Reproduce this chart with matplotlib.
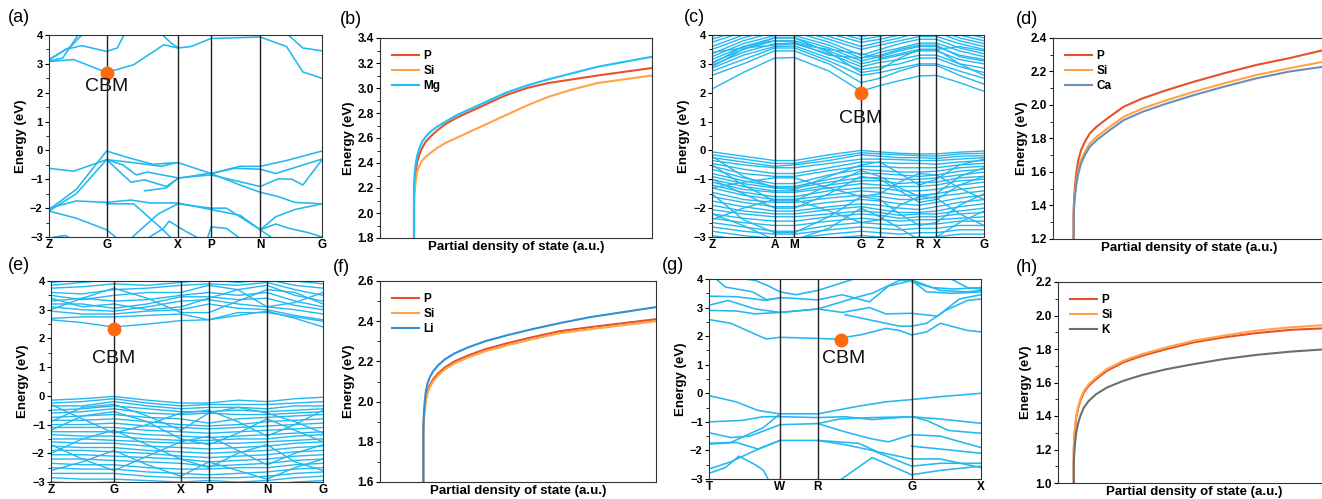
import numpy as np
import matplotlib
matplotlib.use("Agg")
import matplotlib.pyplot as plt
from matplotlib.ticker import MultipleLocator, FormatStrFormatter

plt.rcParams['font.family'] = ['Liberation Sans', 'DejaVu Sans']

BAND = '#22b8f0'
DOT = '#ff6a10'

# ---------------- band data ----------------
# (a) k path Z-G-X-P-N-G
hs_a = [0, 0.211, 0.472, 0.594, 0.774, 1.0]
lab_a = ['Z', 'G', 'X', 'P', 'N', 'G']
bands_a = [
    [(0, 3.08), (0.09, 3.15), (0.211, 2.7), (0.31, 2.97), (0.42, 3.66), (0.472, 3.55), (0.52, 3.6),
     (0.594, 3.88), (0.774, 3.93), (0.87, 3.6), (0.93, 2.72), (1.0, 2.5)],
    [(0, 3.13), (0.06, 3.5), (0.12, 3.63), (0.211, 3.43), (0.25, 3.55), (0.28, 4.1)],
    [(0, 3.1), (0.05, 3.2), (0.11, 4.05)],
    [(0, 3.15), (0.08, 3.6), (0.13, 4.1)],
    [(0.41, 4.05), (0.45, 3.7), (0.472, 3.57)],
    [(0.87, 4.05), (0.93, 3.55), (1.0, 3.45)],
    [(0, -0.62), (0.09, -0.72), (0.211, -0.32), (0.27, -0.38), (0.33, -0.45), (0.41, -0.55), (0.472, -0.42),
     (0.594, -0.8), (0.7, -0.55), (0.774, -0.55), (0.87, -0.35), (1.0, -0.02)],
    [(0, -2.05), (0.1, -1.35), (0.211, -0.02), (0.29, -0.25), (0.38, -0.48), (0.472, -0.42)],
    [(0, -2.1), (0.1, -1.5), (0.211, -0.32), (0.27, -0.5), (0.32, -0.85), (0.36, -0.75), (0.472, -0.95),
     (0.594, -0.85), (0.774, -1.25), (0.84, -0.98), (0.89, -1.0), (0.93, -1.2), (1.0, -0.32)],
    [(0.211, -0.32), (0.3, -1.1), (0.35, -1.02), (0.43, -1.25), (0.472, -0.97)],
    [(0.594, -0.8), (0.7, -1.2), (0.774, -1.45), (0.84, -1.6), (0.9, -1.8), (1.0, -1.85)],
    [(0.594, -0.8), (0.68, -0.62), (0.774, -0.65), (0.83, -0.8), (1.0, -0.3)],
    [(0.35, -1.4), (0.43, -1.3), (0.472, -0.97), (0.594, -0.78)],
    [(0, -2.0), (0.1, -1.75), (0.211, -1.8), (0.3, -1.72), (0.37, -1.82), (0.472, -1.82), (0.594, -2.05),
     (0.7, -2.25), (0.774, -2.75), (0.83, -2.3), (0.9, -2.05), (1.0, -1.85)],
    [(0, -2.1), (0.1, -2.35), (0.211, -2.75), (0.25, -3.05)],
    [(0.211, -1.85), (0.31, -1.85), (0.4, -2.6), (0.45, -3.05)],
    [(0.3, -3.05), (0.4, -2.2), (0.472, -1.85), (0.55, -1.95), (0.594, -2.0), (0.65, -2.0), (0.774, -2.75),
     (0.82, -3.05)],
    [(0.36, -3.05), (0.42, -2.7), (0.44, -2.45), (0.5, -2.8), (0.55, -3.05)],
    [(0.774, -2.75), (0.83, -2.55), (0.88, -2.7), (0.95, -2.85), (1.0, -3.0)],
    [(0.58, -3.05), (0.594, -2.65), (0.65, -2.7), (0.7, -3.05)],
    [(0.02, -3.0), (0.06, -2.95), (0.08, -3.05)],
]

# (c) k path Z-A-M-G-Z-R-X-G
hs_c = [0, 0.23, 0.303, 0.548, 0.617, 0.762, 0.825, 1.0]
lab_c = ['Z', 'A', 'M', 'G', 'Z', 'R', 'X', 'G']
kn_c = [0, 0.115, 0.23, 0.303, 0.43, 0.548, 0.617, 0.69, 0.762, 0.825, 0.91, 1.0]
bands_c = [
    [2.13, 2.7, 3.2, 3.22, 2.75, 2.05, 2.25, 2.42, 2.58, 2.6, 2.35, 2.05],
    [2.6, 3.0, 3.45, 3.45, 3.0, 2.35, 2.5, 2.75, 2.95, 2.95, 2.6, 2.3],
    [2.75, 3.15, 3.55, 3.55, 3.1, 2.6, 2.7, 2.85, 3.0, 3.0, 2.75, 2.5],
    [2.85, 3.3, 3.6, 3.62, 3.2, 2.8, 2.9, 3.0, 3.2, 3.2, 2.9, 2.7],
    [2.95, 3.4, 3.7, 3.7, 3.35, 2.9, 3.05, 3.15, 3.3, 3.3, 3.0, 2.85],
    [3.05, 3.5, 3.8, 3.8, 3.45, 3.0, 3.15, 3.3, 3.45, 3.45, 3.15, 3.0],
    [3.15, 3.6, 3.9, 3.9, 3.55, 3.1, 3.25, 3.45, 3.6, 3.6, 3.3, 3.15],
    [3.25, 3.7, 3.98, 3.98, 3.65, 3.2, 3.4, 3.55, 3.72, 3.72, 3.45, 3.25],
    [3.35, 3.8, 4.1, 4.1, 3.75, 3.3, 3.5, 3.7, 3.85, 3.85, 3.55, 3.35],
    [3.5, 3.9, 4.2, 4.2, 3.85, 3.5, 3.65, 3.8, 3.95, 3.95, 3.7, 3.5],
    [3.6, 4.0, 4.3, 4.3, 3.95, 3.6, 3.75, 3.9, 4.1, 4.1, 3.8, 3.6],
    [3.75, 4.1, 4.4, 4.4, 4.05, 3.75, 3.85, 4.0, 4.2, 4.2, 3.9, 3.7],
    [3.85, 4.2, 4.5, 4.5, 4.15, 3.85, 3.95, 4.1, 4.3, 4.3, 4.0, 3.8],
    [3.95, 4.3, 4.6, 4.6, 4.25, 3.95, 4.05, 4.2, 4.4, 4.4, 4.1, 3.9],
    [3.0, 3.6, 3.8, 3.75, 3.3, 3.2, 3.3, 3.5, 3.65, 3.65, 3.25, 3.1],
    [3.4, 3.55, 3.65, 3.7, 3.5, 3.35, 3.2, 3.35, 3.5, 3.5, 3.6, 3.45],
    [2.9, 3.5, 3.9, 3.9, 3.4, 2.7, 2.8, 3.2, 3.5, 3.5, 3.0, 2.6],
    [-0.05, -0.2, -0.35, -0.35, -0.15, 0.0, -0.05, -0.1, -0.12, -0.12, -0.06, -0.02],
    [-0.15, -0.3, -0.45, -0.45, -0.25, -0.08, -0.12, -0.15, -0.18, -0.2, -0.12, -0.1],
    [-0.25, -0.4, -0.55, -0.5, -0.35, -0.15, -0.2, -0.25, -0.25, -0.28, -0.2, -0.18],
    [-0.35, -0.5, -0.6, -0.6, -0.45, -0.3, -0.3, -0.32, -0.35, -0.35, -0.3, -0.25],
    [-0.45, -0.65, -0.8, -0.8, -0.6, -0.4, -0.42, -0.45, -0.45, -0.48, -0.4, -0.35],
    [-0.55, -0.8, -0.9, -0.9, -0.7, -0.55, -0.55, -0.6, -0.6, -0.6, -0.5, -0.45],
    [-0.65, -0.95, -1.15, -1.15, -0.85, -0.65, -0.7, -0.75, -0.75, -0.72, -0.6, -0.55],
    [-0.8, -1.05, -1.25, -1.25, -1.0, -0.8, -0.8, -0.85, -0.9, -0.85, -0.72, -0.65],
    [-0.9, -1.15, -1.3, -1.3, -1.1, -0.95, -0.95, -1.0, -1.0, -0.95, -0.85, -0.75],
    [-1.0, -1.25, -1.4, -1.4, -1.2, -1.05, -1.05, -1.15, -1.1, -1.1, -0.95, -0.9],
    [-1.1, -1.35, -1.45, -1.45, -1.3, -1.15, -1.2, -1.25, -1.25, -1.2, -1.05, -1.0],
    [-1.2, -1.45, -1.6, -1.6, -1.4, -1.3, -1.3, -1.4, -1.4, -1.35, -1.2, -1.1],
    [-1.3, -1.55, -1.7, -1.7, -1.55, -1.4, -1.45, -1.55, -1.55, -1.5, -1.35, -1.25],
    [-1.45, -1.7, -1.8, -1.8, -1.65, -1.55, -1.6, -1.7, -1.7, -1.6, -1.5, -1.4],
    [-1.6, -1.8, -1.95, -1.95, -1.8, -1.7, -1.75, -1.85, -1.9, -1.8, -1.65, -1.55],
    [-1.75, -1.95, -2.1, -2.1, -1.95, -1.85, -1.9, -2.0, -2.05, -1.95, -1.8, -1.7],
    [-1.9, -2.1, -2.2, -2.2, -2.05, -1.95, -2.05, -2.15, -2.15, -2.1, -1.95, -1.85],
    [-2.05, -2.2, -2.3, -2.3, -2.2, -2.1, -2.15, -2.25, -2.2, -2.2, -2.1, -2.0],
    [-2.2, -2.35, -2.45, -2.45, -2.3, -2.2, -2.25, -2.35, -2.3, -2.3, -2.2, -2.15],
    [-2.35, -2.5, -2.6, -2.6, -2.45, -2.35, -2.4, -2.45, -2.4, -2.4, -2.35, -2.3],
    [-2.5, -2.65, -2.8, -2.8, -2.6, -2.5, -2.55, -2.6, -2.55, -2.55, -2.45, -2.45],
    [-2.65, -2.8, -2.9, -2.9, -2.75, -2.65, -2.7, -2.75, -2.7, -2.7, -2.6, -2.6],
    [-2.8, -2.95, -3.05, -3.05, -2.9, -2.8, -2.85, -2.9, -2.85, -2.85, -2.75, -2.75],
    [-2.95, -3.1, -3.2, -3.2, -3.05, -2.95, -3.0, -3.05, -3.0, -3.0, -2.9, -2.9],
    [-0.2, -0.9, -1.3, -1.35, -0.9, -0.5, -0.4, -0.8, -1.2, -1.0, -0.5, -0.3],
    [-1.0, -1.5, -2.0, -2.0, -1.5, -0.9, -1.0, -1.4, -1.8, -1.7, -1.2, -0.9],
    [-1.5, -2.4, -2.85, -2.85, -2.3, -1.6, -1.7, -2.2, -2.6, -2.5, -1.9, -1.5],
    [-2.2, -2.6, -3.1, -3.1, -2.7, -2.0, -2.3, -2.7, -3.1, -3.0, -2.5, -2.1],
    [-0.5, -1.2, -1.75, -1.75, -1.2, -0.7, -0.9, -1.3, -1.6, -1.5, -0.9, -0.6],
    [-1.3, -1.1, -0.95, -0.95, -1.3, -1.6, -1.5, -1.1, -0.8, -0.85, -1.3, -1.7],
    [-2.4, -2.0, -1.7, -1.7, -2.1, -2.5, -2.4, -1.9, -1.6, -1.65, -2.2, -2.6],
]

# (e) k path Z-G-X-P-N-G
hs_e = [0, 0.231, 0.477, 0.58, 0.794, 1.0]
lab_e = ['Z', 'G', 'X', 'P', 'N', 'G']
kn_e = [0, 0.115, 0.231, 0.354, 0.477, 0.58, 0.687, 0.794, 0.897, 1.0]
bands_e = [
    [2.65, 2.55, 2.4, 2.5, 2.62, 2.65, 2.8, 2.95, 2.7, 2.4],
    [2.7, 2.75, 2.75, 2.8, 2.85, 2.65, 2.9, 2.9, 2.75, 2.6],
    [2.95, 2.85, 2.85, 2.95, 3.0, 3.2, 3.05, 3.0, 2.8, 2.65],
    [3.1, 3.0, 2.95, 3.1, 3.3, 3.35, 3.2, 3.1, 3.0, 2.85],
    [3.2, 3.2, 3.05, 3.2, 3.45, 3.45, 3.35, 3.4, 3.15, 3.0],
    [3.3, 3.4, 3.3, 3.35, 3.5, 3.6, 3.5, 3.6, 3.3, 3.1],
    [3.5, 3.35, 3.5, 3.6, 3.6, 3.85, 3.7, 3.85, 3.5, 3.3],
    [3.6, 3.55, 3.7, 3.75, 3.85, 3.9, 3.85, 3.95, 3.7, 3.5],
    [3.75, 3.8, 3.9, 3.85, 3.95, 4.05, 3.95, 4.05, 3.85, 3.75],
    [3.85, 3.95, 4.05, 4.0, 4.1, 4.2, 4.1, 4.2, 4.0, 3.9],
    [3.95, 4.05, 4.2, 4.1, 4.2, 4.3, 4.25, 4.3, 4.1, 4.0],
    [3.0, 3.4, 3.75, 3.4, 2.9, 2.9, 3.3, 3.7, 3.6, 3.2],
    [3.4, 3.1, 3.2, 3.0, 3.1, 3.4, 3.7, 3.1, 3.25, 3.6],
    [-0.15, -0.1, -0.02, -0.15, -0.25, -0.25, -0.15, -0.2, -0.1, -0.05],
    [-0.25, -0.2, -0.1, -0.25, -0.35, -0.3, -0.3, -0.3, -0.25, -0.2],
    [-0.35, -0.35, -0.2, -0.35, -0.45, -0.4, -0.4, -0.45, -0.35, -0.35],
    [-0.5, -0.45, -0.35, -0.45, -0.55, -0.55, -0.5, -0.55, -0.5, -0.45],
    [-0.6, -0.55, -0.45, -0.6, -0.65, -0.6, -0.65, -0.65, -0.6, -0.55],
    [-0.75, -0.7, -0.65, -0.75, -0.8, -0.95, -0.8, -0.75, -0.7, -0.65],
    [-0.85, -0.85, -0.8, -0.9, -1.0, -1.05, -1.0, -0.9, -0.85, -0.8],
    [-1.0, -1.0, -0.95, -1.05, -1.1, -1.15, -1.1, -1.05, -1.0, -0.95],
    [-1.1, -1.1, -1.1, -1.2, -1.25, -1.3, -1.25, -1.2, -1.15, -1.1],
    [-1.25, -1.25, -1.25, -1.35, -1.4, -1.45, -1.4, -1.35, -1.3, -1.25],
    [-1.35, -1.4, -1.4, -1.5, -1.55, -1.55, -1.5, -1.5, -1.4, -1.35],
    [-1.5, -1.5, -1.55, -1.6, -1.65, -1.65, -1.65, -1.6, -1.55, -1.5],
    [-1.6, -1.65, -1.65, -1.75, -1.8, -1.85, -1.8, -1.75, -1.65, -1.6],
    [-1.75, -1.8, -1.8, -1.9, -1.95, -2.0, -1.95, -1.9, -1.8, -1.75],
    [-1.9, -1.9, -1.95, -2.0, -2.1, -2.15, -2.1, -2.05, -1.95, -1.9],
    [-2.05, -2.05, -2.1, -2.15, -2.2, -2.3, -2.25, -2.2, -2.1, -2.05],
    [-2.2, -2.2, -2.25, -2.3, -2.35, -2.45, -2.4, -2.35, -2.25, -2.2],
    [-2.35, -2.4, -2.4, -2.5, -2.55, -2.55, -2.5, -2.5, -2.4, -2.35],
    [-2.5, -2.55, -2.55, -2.65, -2.7, -2.75, -2.7, -2.65, -2.55, -2.5],
    [-2.7, -2.7, -2.7, -2.8, -2.85, -2.85, -2.85, -2.8, -2.7, -2.65],
    [-2.85, -2.9, -2.9, -2.95, -3.0, -2.95, -3.0, -2.95, -2.85, -2.8],
    [-3.0, -3.05, -3.0, -3.1, -3.1, -3.05, -3.1, -3.1, -3.0, -2.95],
    [-0.3, -0.8, -1.3, -1.0, -0.6, -0.5, -0.9, -1.4, -1.0, -0.5],
    [-1.2, -0.7, -0.55, -0.9, -1.5, -1.7, -1.3, -0.8, -1.2, -1.6],
    [-2.0, -1.5, -1.2, -1.7, -2.2, -2.5, -2.0, -1.7, -2.3, -2.6],
    [-2.6, -2.3, -1.9, -2.4, -2.8, -2.3, -2.6, -2.9, -2.5, -2.2],
    [-0.9, -0.4, -0.3, -0.7, -1.2, -0.6, -0.4, -0.6, -0.9, -1.3],
    [-1.7, -2.2, -2.6, -2.1, -1.6, -1.4, -1.9, -2.4, -2.0, -1.7],
]

# (g) k path T-W-R-G-X
hs_g = [0, 0.261, 0.4, 0.745, 1.0]
lab_g = ['T', 'W', 'R', 'G', 'X']
bands_g = [
    [(0, 2.58), (0.08, 2.45), (0.21, 1.9), (0.261, 1.96), (0.4, 1.92), (0.46, 1.9), (0.56, 2.05), (0.65, 2.27),
     (0.70, 2.2), (0.745, 2.04), (0.80, 2.15), (0.85, 2.45), (0.95, 2.2), (1.0, 2.15)],
    [(0, 2.9), (0.1, 2.88), (0.17, 2.78), (0.261, 2.83), (0.4, 2.95), (0.49, 2.83), (0.59, 3.0), (0.65, 2.78),
     (0.745, 2.8), (0.84, 2.7), (0.92, 3.3), (1.0, 3.45)],
    [(0, 3.08), (0.07, 3.25), (0.17, 2.95), (0.261, 2.83), (0.4, 2.95), (0.55, 3.38), (0.6, 3.5), (0.7, 3.95),
     (0.745, 3.97), (0.85, 3.6), (0.95, 3.55), (1.0, 3.6)],
    [(0, 3.4), (0.1, 3.38), (0.21, 3.25), (0.261, 3.35), (0.4, 3.27), (0.49, 3.45), (0.59, 3.2), (0.66, 3.75),
     (0.745, 3.95), (0.8, 3.55), (0.9, 3.5), (1.0, 3.55)],
    [(0.02, 4.05), (0.06, 3.72), (0.16, 3.55), (0.21, 3.28), (0.261, 3.33)],
    [(0.09, 4.05), (0.17, 3.95), (0.22, 3.75), (0.261, 3.55), (0.32, 3.45), (0.4, 3.6), (0.5, 3.9),
     (0.55, 4.05)],
    [(0.5, 2.75), (0.6, 2.55), (0.65, 2.45), (0.7, 2.35), (0.745, 2.35), (0.8, 2.45), (0.87, 2.9),
     (0.95, 3.25), (1.0, 3.3)],
    [(0.745, 3.9), (0.82, 3.7), (0.9, 3.65), (1.0, 3.7)],
    [(0.88, 4.05), (0.95, 3.7), (1.0, 3.65)],
    [(0, -0.08), (0.1, -0.3), (0.18, -0.6), (0.261, -0.72), (0.4, -0.72), (0.55, -0.45), (0.65, -0.3),
     (0.745, -0.22), (0.85, -0.12), (1.0, 0.0)],
    [(0, -1.0), (0.12, -0.95), (0.2, -0.82), (0.261, -0.82), (0.4, -0.85), (0.5, -0.82), (0.6, -0.92),
     (0.745, -0.82), (0.85, -0.9), (1.0, -1.05)],
    [(0, -1.38), (0.08, -1.55), (0.15, -1.5), (0.261, -1.1), (0.4, -1.06), (0.48, -0.9), (0.6, -0.85),
     (0.745, -0.82), (0.8, -0.95), (0.88, -1.3), (1.0, -1.4)],
    [(0, -1.75), (0.08, -1.72), (0.2, -1.2), (0.261, -0.72)],
    [(0, -1.78), (0.1, -1.72), (0.18, -1.95), (0.261, -1.65), (0.4, -1.65), (0.5, -1.8), (0.6, -2.0),
     (0.745, -2.55), (0.85, -2.45), (1.0, -2.45)],
    [(0, -2.65), (0.08, -2.4), (0.17, -2.0), (0.261, -1.65)],
    [(0.4, -1.06), (0.5, -1.35), (0.6, -1.6), (0.66, -1.7), (0.745, -1.45), (0.85, -1.5), (1.0, -1.9)],
    [(0.4, -1.65), (0.55, -1.75), (0.62, -2.05), (0.745, -2.3), (0.85, -2.3), (1.0, -2.6)],
    [(0, -2.8), (0.06, -2.6), (0.11, -2.2), (0.17, -2.5), (0.2, -2.7), (0.22, -3.05)],
    [(0.48, -3.05), (0.6, -2.25), (0.745, -2.85), (0.85, -2.7), (1.0, -2.55)],
    [(0.745, -1.85), (0.85, -1.95), (1.0, -2.1)],
]

cbm = {'a': (0.211, 2.69, 0.211, 2.2), 'c': (0.548, 1.99, 0.548, 1.1),
       'e': (0.231, 2.33, 0.231, 1.3), 'g': (0.484, 1.85, 0.494, 1.22)}

# ---------------- PDOS data ----------------
x_b = [0.125, 0.125, 0.127, 0.131, 0.137, 0.145, 0.155, 0.168, 0.185, 0.21, 0.24, 0.28, 0.33, 0.39,
       0.46, 0.54, 0.62, 0.71, 0.8, 0.9, 1.0]
P_b = [1.8, 2.15, 2.24, 2.33, 2.41, 2.47, 2.52, 2.57, 2.61, 2.66, 2.71, 2.76, 2.81, 2.87, 2.94, 3.0,
       3.04, 3.07, 3.1, 3.13, 3.16]
Si_b = [1.8, 2.05, 2.15, 2.25, 2.33, 2.38, 2.42, 2.45, 2.48, 2.52, 2.56, 2.6, 2.65, 2.71, 2.78, 2.86,
        2.93, 2.99, 3.04, 3.07, 3.1]
Mg_b = [1.8, 2.2, 2.3, 2.39, 2.46, 2.52, 2.57, 2.61, 2.65, 2.69, 2.73, 2.78, 2.83, 2.89, 2.96, 3.02,
        3.07, 3.12, 3.17, 3.21, 3.25]

x_d = [0.076, 0.076, 0.078, 0.081, 0.086, 0.093, 0.103, 0.117, 0.135, 0.16, 0.2, 0.26, 0.33, 0.42,
       0.52, 0.63, 0.75, 0.87, 1.0]
P_d = [1.2, 1.38, 1.45, 1.52, 1.6, 1.67, 1.73, 1.78, 1.83, 1.87, 1.92, 1.99, 2.04, 2.09, 2.14, 2.19,
       2.24, 2.28, 2.33]
Si_d = [1.2, 1.35, 1.42, 1.48, 1.55, 1.61, 1.67, 1.72, 1.77, 1.81, 1.86, 1.93, 1.98, 2.03, 2.08, 2.13,
        2.18, 2.22, 2.26]
Ca_d = [1.2, 1.33, 1.4, 1.46, 1.53, 1.59, 1.65, 1.7, 1.75, 1.79, 1.84, 1.91, 1.96, 2.01, 2.06, 2.11,
        2.16, 2.2, 2.23]

x_f = [0.157, 0.157, 0.159, 0.162, 0.166, 0.172, 0.18, 0.192, 0.21, 0.235, 0.27, 0.32, 0.38, 0.46,
       0.55, 0.65, 0.76, 0.88, 1.0]
P_f = [1.6, 1.85, 1.92, 1.97, 2.01, 2.05, 2.08, 2.11, 2.14, 2.17, 2.2, 2.23, 2.26, 2.29, 2.32, 2.35,
       2.37, 2.39, 2.41]
Si_f = [1.6, 1.84, 1.91, 1.96, 2.0, 2.04, 2.07, 2.1, 2.13, 2.16, 2.19, 2.22, 2.25, 2.28, 2.31, 2.34,
        2.36, 2.38, 2.40]
Li_f = [1.6, 1.87, 1.94, 2.0, 2.05, 2.09, 2.12, 2.15, 2.18, 2.21, 2.24, 2.27, 2.3, 2.33, 2.36, 2.39,
        2.42, 2.445, 2.47]

x_h = [0.058, 0.058, 0.06, 0.063, 0.067, 0.073, 0.082, 0.095, 0.113, 0.14, 0.18, 0.24, 0.31, 0.4,
       0.5, 0.61, 0.73, 0.86, 1.0]
P_h = [1.0, 1.2, 1.27, 1.33, 1.39, 1.44, 1.49, 1.54, 1.58, 1.62, 1.67, 1.72, 1.76, 1.8, 1.84, 1.87,
       1.895, 1.915, 1.925]
Si_h = [1.0, 1.21, 1.28, 1.34, 1.4, 1.45, 1.5, 1.55, 1.59, 1.63, 1.68, 1.73, 1.77, 1.81, 1.85, 1.88,
        1.91, 1.93, 1.945]
K_h = [1.0, 1.12, 1.18, 1.24, 1.3, 1.35, 1.4, 1.45, 1.49, 1.53, 1.57, 1.61, 1.645, 1.68, 1.71, 1.74,
       1.765, 1.785, 1.8]

C_P, C_SI = '#e8502a', '#ffa445'

W, H = 1322, 499
fig = plt.figure(figsize=(W / 100, H / 100), dpi=100)


def box(l, r, t, b):
    return fig.add_axes([l / W, 1 - b / H, (r - l) / W, (b - t) / H])


def style_band(ax, hs, labs):
    ax.set_xlim(0, 1)
    ax.set_ylim(-3, 4)
    for x in hs[1:-1]:
        ax.axvline(x, color='#222222', lw=1.0, zorder=3)
    ax.set_xticks(hs)
    ax.set_xticklabels(labs, fontsize=8.5, fontweight='bold')
    ax.tick_params(axis='x', length=0, pad=1.5)
    ax.yaxis.set_major_locator(MultipleLocator(1))
    ax.yaxis.set_minor_locator(MultipleLocator(0.5))
    ax.tick_params(axis='y', which='major', length=3, width=0.8, labelsize=8, pad=1.5)
    ax.tick_params(axis='y', which='minor', length=2, width=0.6)
    for lab in ax.get_yticklabels():
        lab.set_fontweight('bold')
    ax.set_ylabel('Energy (eV)', fontsize=9.5, fontweight='bold', labelpad=2)
    for s in ax.spines.values():
        s.set_color('#333333')
        s.set_linewidth(0.8)


def style_dos(ax, lo, hi):
    ax.set_xlim(0, 1)
    ax.set_ylim(lo, hi)
    ax.set_xticks([])
    ax.yaxis.set_major_locator(MultipleLocator(0.2))
    ax.yaxis.set_minor_locator(MultipleLocator(0.1))
    ax.yaxis.set_major_formatter(FormatStrFormatter('%.1f'))
    ax.tick_params(axis='y', which='major', length=3, width=0.8, labelsize=8.5, pad=1.5)
    ax.tick_params(axis='y', which='minor', length=2, width=0.6)
    for lab in ax.get_yticklabels():
        lab.set_fontweight('bold')
    ax.set_ylabel('Energy (eV)', fontsize=9.5, fontweight='bold', labelpad=2)
    ax.set_xlabel('Partial density of state (a.u.)', fontsize=9.5, fontweight='bold', labelpad=2)
    ax.legend(loc='upper left', frameon=False, prop={'weight': 'bold', 'size': 8.5},
              handlelength=2.3, labelspacing=0.25, borderaxespad=0.6, handletextpad=0.4)
    for s in ax.spines.values():
        s.set_color('#333333')
        s.set_linewidth(0.8)


def cbm_mark(ax, key):
    xd, yd, xt, yt = cbm[key]
    ax.plot(xd, yd, 'o', color=DOT, ms=9, zorder=5)
    ax.text(xt, yt, 'CBM', fontsize=14, ha='center', va='center', color='#111111', zorder=6)


# (a)
ax = box(49, 322, 35, 237)
for b in bands_a:
    k, e = zip(*b)
    ax.plot(k, e, color=BAND, lw=1.15)
style_band(ax, hs_a, lab_a)
cbm_mark(ax, 'a')

# (b)
ax = box(380, 652, 38, 238)
ax.plot(x_b, P_b, color=C_P, lw=1.5, label='P')
ax.plot(x_b, Si_b, color=C_SI, lw=1.5, label='Si')
ax.plot(x_b, Mg_b, color='#1ec0f5', lw=1.5, label='Mg')
style_dos(ax, 1.8, 3.4)

# (c)
ax = box(712, 984, 35, 237)
for e in bands_c:
    ax.plot(kn_c, e, color=BAND, lw=1.0)
style_band(ax, hs_c, lab_c)
cbm_mark(ax, 'c')

# (d)
ax = box(1053, 1325, 38, 239)
ax.plot(x_d, P_d, color=C_P, lw=1.5, label='P')
ax.plot(x_d, Si_d, color=C_SI, lw=1.5, label='Si')
ax.plot(x_d, Ca_d, color='#6b8fb8', lw=1.5, label='Ca')
style_dos(ax, 1.2, 2.4)

# (e)
ax = box(51, 323, 281, 482)
for e in bands_e:
    ax.plot(kn_e, e, color=BAND, lw=1.0)
style_band(ax, hs_e, lab_e)
cbm_mark(ax, 'e')

# (f)
ax = box(380, 656, 281, 482)
ax.plot(x_f, P_f, color=C_P, lw=1.5, label='P')
ax.plot(x_f, Si_f, color=C_SI, lw=1.5, label='Si')
ax.plot(x_f, Li_f, color='#2f8fd2', lw=1.5, label='Li')
style_dos(ax, 1.6, 2.6)

# (g)
ax = box(709, 981, 279, 479)
for b in bands_g:
    k, e = zip(*b)
    ax.plot(k, e, color=BAND, lw=1.15)
style_band(ax, hs_g, lab_g)
cbm_mark(ax, 'g')

# (h)
ax = box(1058, 1330, 282, 483)
ax.plot(x_h, P_h, color=C_P, lw=1.5, label='P')
ax.plot(x_h, Si_h, color=C_SI, lw=1.5, label='Si')
ax.plot(x_h, K_h, color='#6e6e6e', lw=1.5, label='K')
style_dos(ax, 1.0, 2.2)

# panel letters
for txt, x, y in [('(a)', 8, 18), ('(b)', 340, 20), ('(c)', 684, 18), ('(d)', 1016, 20),
                  ('(e)', 8, 265), ('(f)', 333, 268), ('(g)', 662, 265), ('(h)', 1016, 268)]:
    fig.text(x / W, 1 - y / H, txt, fontsize=13, ha='left', va='center')

fig.savefig('out.png', dpi=100)
